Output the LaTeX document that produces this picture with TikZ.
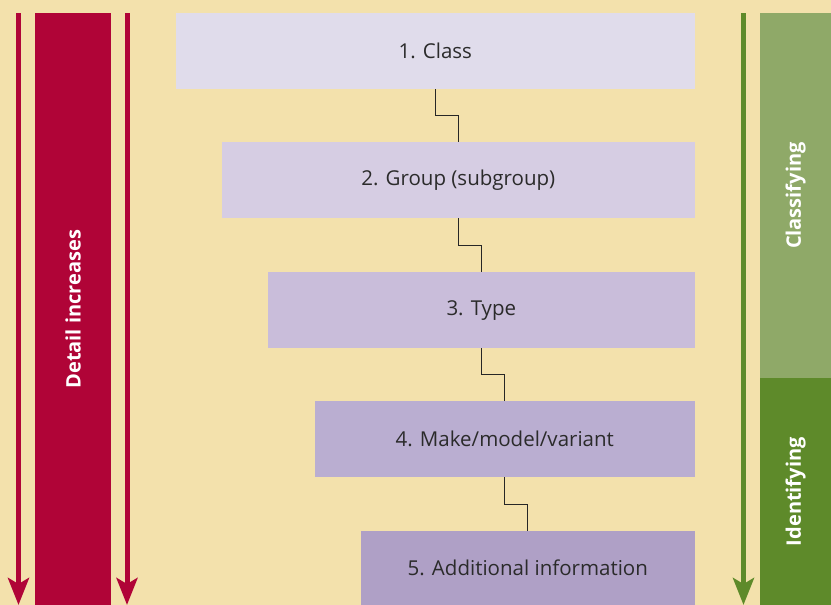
\documentclass[tikz,border=0pt]{standalone}
\usepackage{fontspec}
\setmainfont{Open Sans}
\usetikzlibrary{arrows.meta,calc}
\definecolor{bg}{HTML}{F3E1AC}
\definecolor{redc}{HTML}{B00437}
\definecolor{lgreen}{HTML}{8FA968}
\definecolor{dgreen}{HTML}{5E8A2A}
\definecolor{cA}{HTML}{E0DCEB}
\definecolor{cB}{HTML}{D6CDE3}
\definecolor{cC}{HTML}{C9BDDA}
\definecolor{cD}{HTML}{BAAED1}
\definecolor{cE}{HTML}{AFA0C6}
\definecolor{txt}{HTML}{2B2B2B}
\begin{document}
\begin{tikzpicture}[x=1pt,y=-1pt,
  level/.style={anchor=north east,minimum height=76pt,inner sep=0pt,font=\fontsize{20.5}{24}\selectfont,text=txt},
  band/.style={anchor=north west,inner sep=0pt},
  bandtext/.style={rotate=90,text=white,font=\bfseries\fontsize{20}{24}\selectfont},
  bigarrow/.style={line width=5pt,-{Stealth[length=27pt,width=21pt,inset=6pt]}},
  link/.style={line width=1.1pt,draw=black!85}]
\useasboundingbox (0,0) rectangle (831,605);
\fill[bg] (0,0) rectangle (831,605);
% boxes
\node[level,fill=cA,minimum width=519pt] (b1) at (695,13) {1. Class};
\node[level,fill=cB,minimum width=473pt] (b2) at (695,142) {2. Group (subgroup)};
\node[level,fill=cC,minimum width=427pt] (b3) at (695,272) {3. Type};
\node[level,fill=cD,minimum width=380pt] (b4) at (695,401) {4. Make/model/variant};
\node[level,fill=cE,minimum width=334pt,minimum height=74pt] (b5) at (695,531) {5. Additional information};
% links
\foreach \a/\b in {b1/b2,b2/b3,b3/b4,b4/b5}{
  \draw[link] (\a.south) |- ($(\a.south)!.5!(\b.north)$) -| (\b.north);
}
% left red
\node[band,fill=redc,minimum width=76pt,minimum height=592pt] (rb) at (35,13) {};
\node[bandtext] (rt) at (rb.center) {Detail increases};
\coordinate (r1s) at (18.5,13);
\coordinate (r1e) at (18.5,605);
\coordinate (r2s) at (127,13);
\coordinate (r2e) at (127,605);
\draw[bigarrow,redc] (r1s) -- (r1e);
\draw[bigarrow,redc] (r2s) -- (r2e);
% right green
\node[band,fill=lgreen,minimum width=71pt,minimum height=365pt] (gc) at (760,13) {};
\node[band,fill=dgreen,minimum width=71pt,minimum height=227pt] (gi) at (760,378) {};
\node[bandtext] (gct) at (gc.center) {Classifying};
\node[bandtext] (git) at (gi.center) {Identifying};
\coordinate (g1s) at (743.5,13);
\coordinate (g1e) at (743.5,605);
\draw[bigarrow,dgreen] (g1s) -- (g1e);
\end{tikzpicture}
\end{document}
